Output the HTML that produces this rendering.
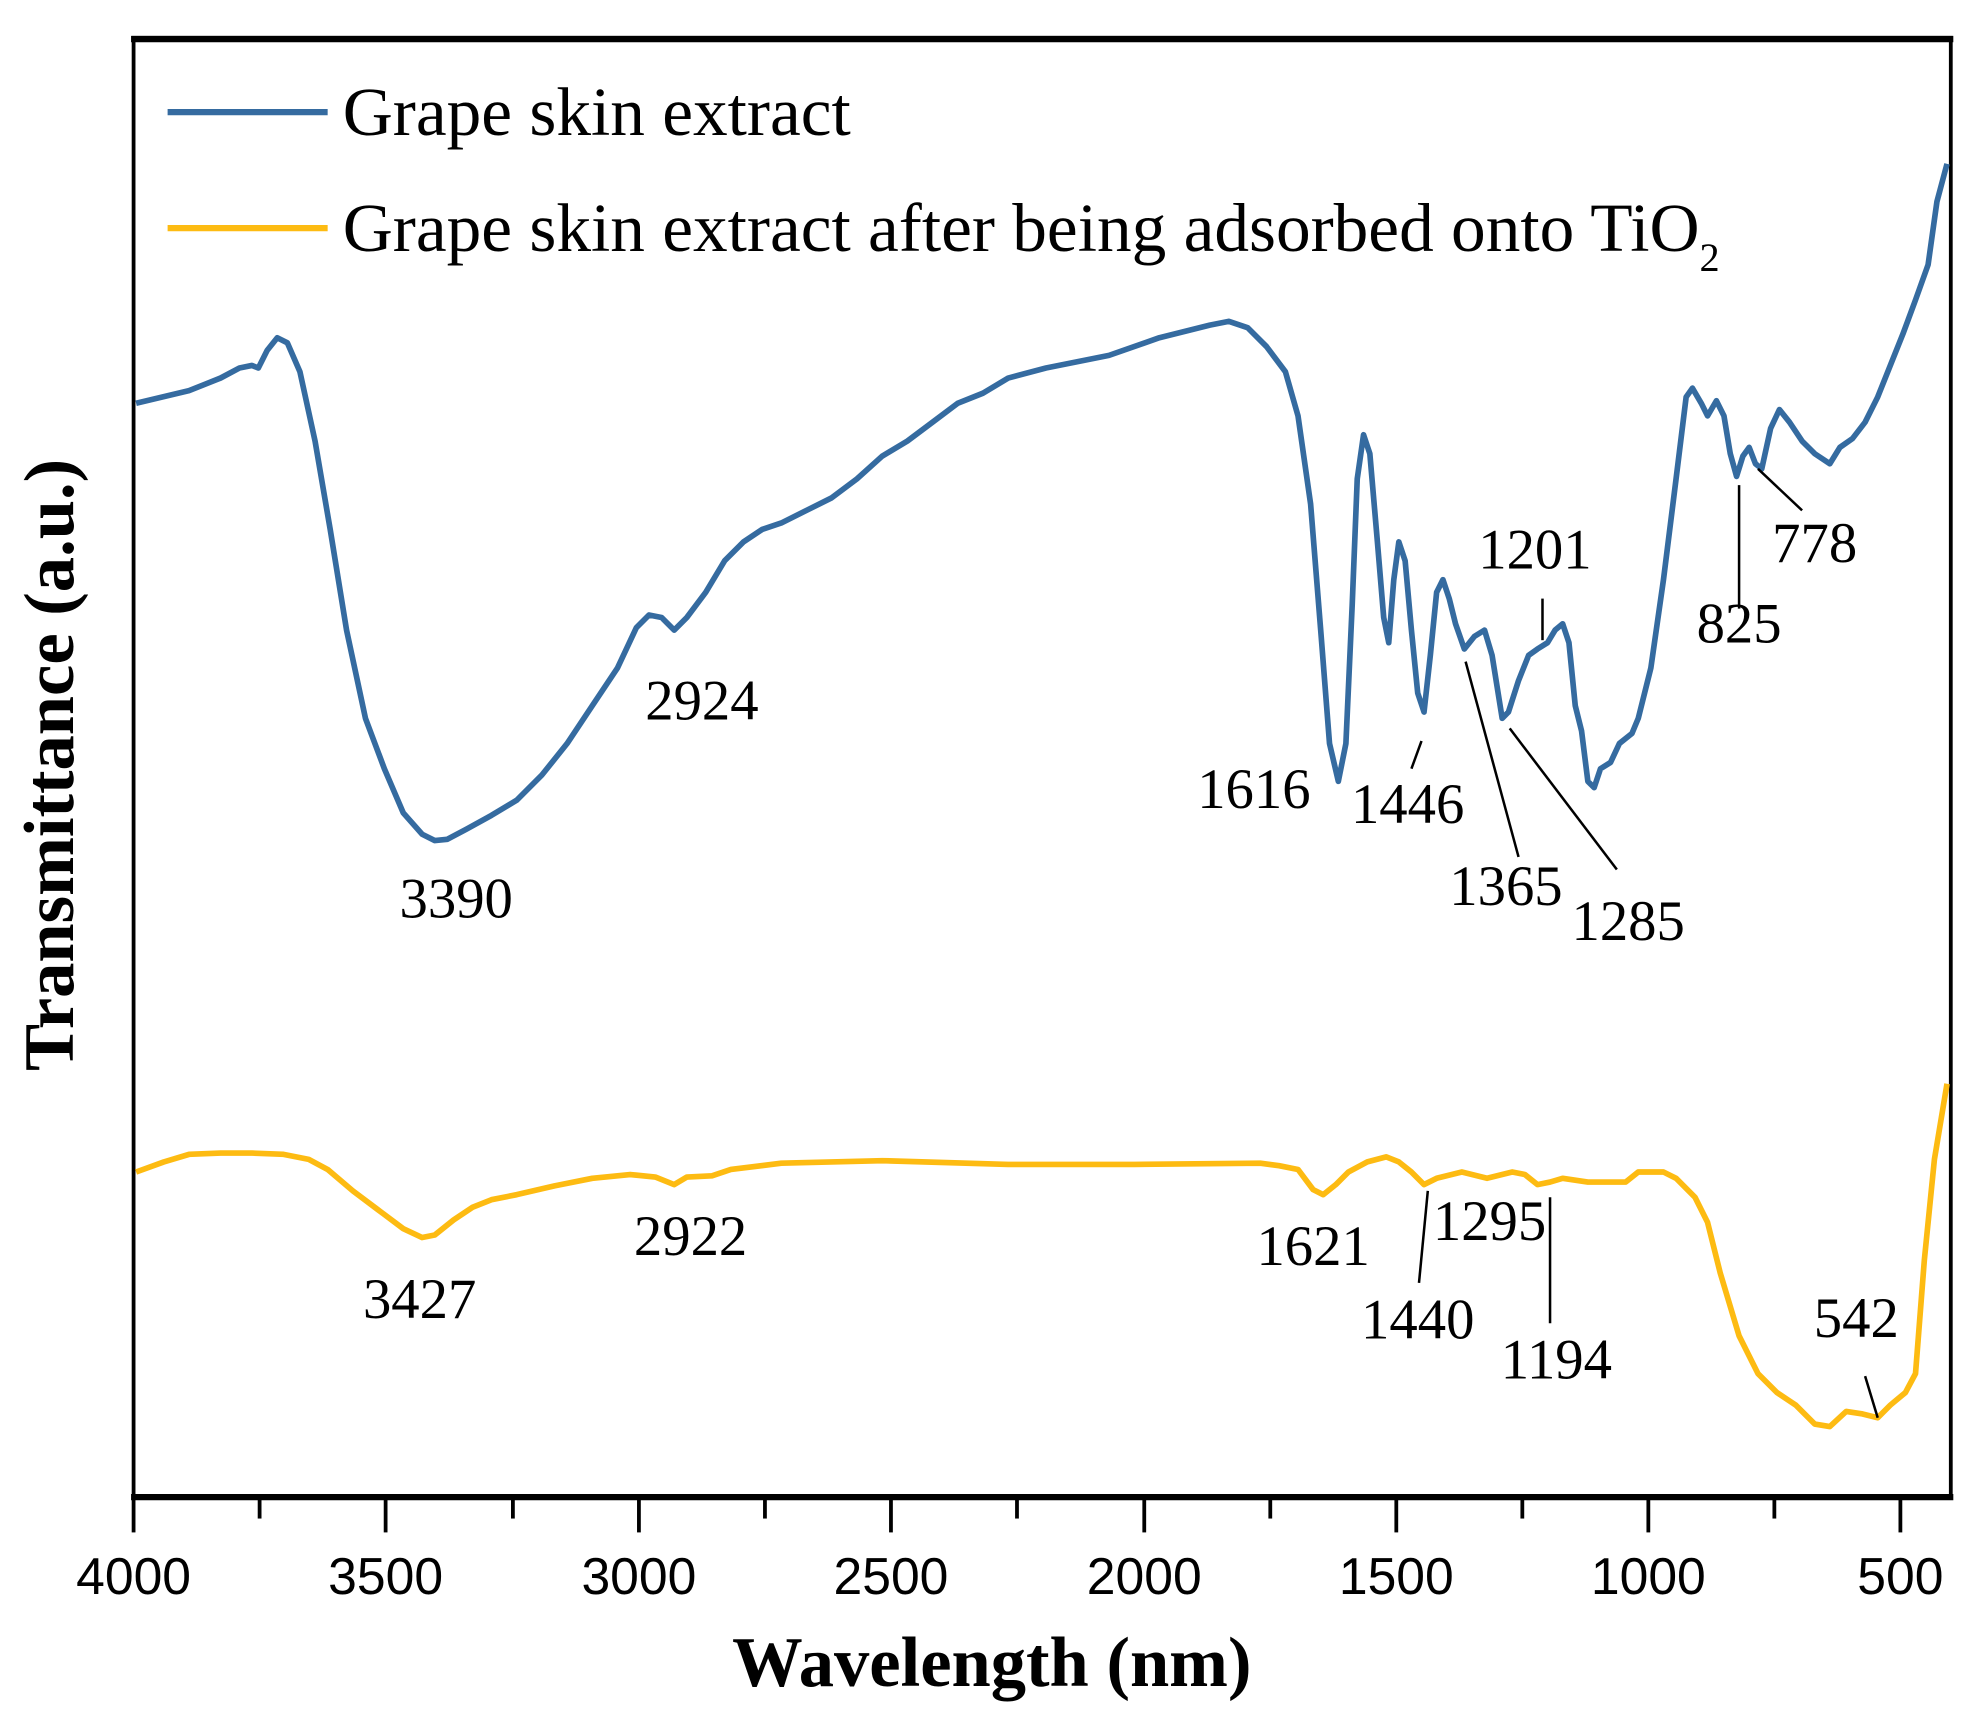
<!DOCTYPE html>
<html><head><meta charset="utf-8"><style>html,body{margin:0;padding:0;background:#fff}svg{display:block}</style></head><body>
<svg width="1976" height="1713" viewBox="0 0 1568 1359.3" xmlns="http://www.w3.org/2000/svg" font-family="Liberation Serif, serif">
<rect x="106" y="30" width="1442" height="1158" fill="none" stroke="#000" stroke-width="3"/>
<line x1="104" y1="31" x2="1550" y2="31" stroke="#000" stroke-width="5"/>
<line x1="104" y1="1188" x2="1550" y2="1188" stroke="#000" stroke-width="5"/>
<g stroke="#000" stroke-width="3">
<line x1="106" y1="1188" x2="106" y2="1216"/><line x1="206" y1="1188" x2="206" y2="1205"/>
<line x1="306" y1="1188" x2="306" y2="1216"/><line x1="407" y1="1188" x2="407" y2="1205"/>
<line x1="507" y1="1188" x2="507" y2="1216"/><line x1="607" y1="1188" x2="607" y2="1205"/>
<line x1="707" y1="1188" x2="707" y2="1216"/><line x1="807" y1="1188" x2="807" y2="1205"/>
<line x1="908" y1="1188" x2="908" y2="1216"/><line x1="1008" y1="1188" x2="1008" y2="1205"/>
<line x1="1108" y1="1188" x2="1108" y2="1216"/><line x1="1208" y1="1188" x2="1208" y2="1205"/>
<line x1="1308" y1="1188" x2="1308" y2="1216"/><line x1="1408" y1="1188" x2="1408" y2="1205"/>
<line x1="1508" y1="1188" x2="1508" y2="1216"/>
</g>
<g font-family="Liberation Sans, sans-serif" font-size="41" text-anchor="middle">
<text x="106" y="1265">4000</text><text x="306" y="1265">3500</text><text x="507" y="1265">3000</text>
<text x="707" y="1265">2500</text><text x="908" y="1265">2000</text><text x="1108" y="1265">1500</text>
<text x="1308" y="1265">1000</text><text x="1508" y="1265">500</text>
</g>
<text x="787" y="1338" font-size="56" font-weight="bold" text-anchor="middle">Wavelength (nm)</text>
<text transform="translate(58,607) rotate(-90)" font-size="56" font-weight="bold" text-anchor="middle">Transmittance (a.u.)</text>
<line x1="133" y1="89" x2="260" y2="89" stroke="#356ba0" stroke-width="5"/>
<line x1="133" y1="181" x2="260" y2="181" stroke="#fdbb12" stroke-width="5"/>
<text x="272" y="107" font-size="55">Grape skin extract</text>
<text x="272" y="199" font-size="55">Grape skin extract after being adsorbed onto TiO<tspan font-size="32" dy="16">2</tspan></text>
<polyline fill="none" stroke="#356ba0" stroke-width="4.5" stroke-linejoin="round" points="108,320 150,310 175,300 190,292 200,290 205,292 212,278 220,268 228,272 238,295 250,350 262,420 275,500 290,570 305,610 320,645 335,662 345,667 355,666 370,658 390,647 410,635 430,615 450,590 470,560 490,530 505,498 515,488 525,490 535,500 545,490 560,470 575,445 590,430 605,420 620,415 640,405 660,395 680,380 700,362 720,350 740,335 760,320 780,312 800,300 830,292 880,282 920,268 960,258 975,255 990,260 1005,275 1020,295 1030,330 1040,400 1048,500 1055,590 1062,620 1068,590 1073,480 1077,380 1082,345 1087,360 1093,430 1098,490 1102,510 1106,460 1110,430 1115,445 1120,500 1125,550 1130,565 1135,520 1140,470 1145,460 1150,475 1155,495 1162,515 1170,505 1178,500 1184,520 1192,570 1197,565 1205,540 1213,520 1220,515 1228,510 1234,500 1240,495 1245,510 1250,560 1255,580 1260,620 1265,625 1270,610 1278,605 1285,590 1295,582 1300,570 1310,530 1320,460 1330,380 1338,315 1343,308 1350,320 1355,330 1362,318 1368,330 1373,360 1378,378 1383,362 1388,355 1393,368 1398,372 1405,340 1412,325 1420,335 1430,350 1440,360 1452,368 1460,355 1470,348 1480,335 1490,315 1500,290 1510,265 1520,238 1530,210 1537,160 1545,130"/>
<polyline fill="none" stroke="#fdbb12" stroke-width="4.5" stroke-linejoin="round" points="108,930 130,922 150,916 175,915 200,915 225,916 245,920 260,928 280,945 300,960 320,975 335,982 345,980 360,968 375,958 390,952 410,948 440,941 470,935 500,932 520,934 535,940 545,934 565,933 580,928 620,923 700,921 800,924 900,924 1000,923 1015,925 1030,928 1042,944 1050,948 1060,940 1070,930 1085,922 1100,918 1110,922 1120,930 1130,940 1140,935 1160,930 1180,935 1200,930 1210,932 1220,940 1230,938 1240,935 1260,938 1290,938 1300,930 1320,930 1330,935 1345,950 1355,970 1365,1010 1380,1060 1395,1090 1410,1105 1425,1115 1440,1130 1452,1132 1465,1120 1478,1122 1490,1125 1500,1115 1512,1105 1520,1090 1527,1000 1535,920 1545,860"/>
<g stroke="#000" stroke-width="2">
<line x1="1120" y1="610" x2="1128" y2="588"/><line x1="1163" y1="525" x2="1205" y2="680"/>
<line x1="1198" y1="578" x2="1283" y2="690"/><line x1="1224" y1="475" x2="1224" y2="508"/>
<line x1="1380" y1="385" x2="1380" y2="483"/><line x1="1395" y1="372" x2="1430" y2="405"/>
<line x1="1133" y1="945" x2="1126" y2="1018"/><line x1="1230" y1="950" x2="1230" y2="1050"/>
<line x1="1480" y1="1092" x2="1490" y2="1125"/>
</g>
<g font-size="45" text-anchor="middle">
<text x="362" y="728">3390</text><text x="557" y="571">2924</text><text x="995" y="641">1616</text>
<text x="1117" y="653">1446</text><text x="1195" y="718">1365</text><text x="1292" y="746">1285</text>
<text x="1218" y="451">1201</text><text x="1380" y="510">825</text><text x="1440" y="446">778</text>
<text x="333" y="1046">3427</text><text x="548" y="996">2922</text><text x="1042" y="1004">1621</text>
<text x="1182" y="984">1295</text><text x="1125" y="1062">1440</text><text x="1235" y="1094">1194</text>
<text x="1473" y="1061">542</text>
</g>
</svg>
</body></html>
